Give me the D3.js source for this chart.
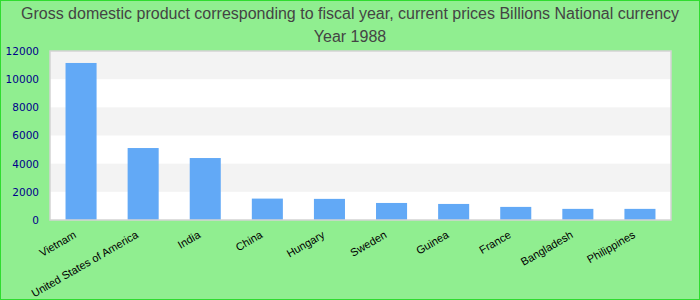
<!DOCTYPE html>
<html>
<head>
<meta charset="utf-8">
<script src="https://cdn.jsdelivr.net/npm/d3@7"></script>
<style>
  body { margin: 0; background: #90ee90; }
</style>
</head>
<body>
<div id="chart"></div>
<script>
// données
const countries = ["Vietnam", "United States of America", "India", "China", "Hungary",
    "Sweden", "Guinea", "France", "Bangladesh", "Philippines"];
const gdpValues = [11150, 5110, 4400, 1520, 1500, 1210, 1140, 930, 790, 790];
const yTicks = [0, 2000, 4000, 6000, 8000, 10000, 12000];
const titleLines = [
    "Gross domestic product corresponding to fiscal year, current prices Billions National currency",
    "Year 1988"
];

const W = 700, H = 300;
const margin = { top: 51, right: 29, bottom: 80, left: 50 };
const width = W - margin.left - margin.right;
const height = H - margin.top - margin.bottom;

const svg = d3.select("#chart")
    .append("svg")
    .attr("width", W)
    .attr("height", H);

// fond + bordure verte
svg.append("rect")
    .attr("x", 0).attr("y", 0)
    .attr("width", W).attr("height", H)
    .attr("fill", "#90ee90")
    .attr("stroke", "#2fdc2f")
    .attr("stroke-width", 2);

// titre
svg.selectAll(".title")
    .data(titleLines)
    .enter()
    .append("text")
    .attr("x", W / 2)
    .attr("y", (d, i) => 19 + i * 23)
    .attr("text-anchor", "middle")
    .attr("font-family", "Liberation Sans, Arial, sans-serif")
    .attr("font-size", 16)
    .attr("fill", "#444")
    .text(d => d);

const g = svg.append("g")
    .attr("transform", `translate(${margin.left},${margin.top})`);

const x = d3.scaleBand()
    .domain(countries)
    .range([0, width])
    .paddingInner(0.5)
    .paddingOuter(0.25);

const y = d3.scaleLinear()
    .domain([0, 12000])
    .range([height, 0]);

// bandes alternées
g.append("rect")
    .attr("width", width).attr("height", height)
    .attr("fill", "#fff");

g.selectAll(".stripe")
    .data(yTicks.slice(0, -1).filter((d, i) => i % 2 === 1))
    .enter()
    .append("rect")
    .attr("x", 0)
    .attr("y", d => y(d + 2000))
    .attr("width", width)
    .attr("height", d => y(d) - y(d + 2000))
    .attr("fill", "#f3f3f3");

// barres
g.selectAll(".bar")
    .data(countries)
    .enter()
    .append("rect")
    .attr("x", d => x(d))
    .attr("y", (d, i) => y(gdpValues[i]))
    .attr("width", x.bandwidth())
    .attr("height", (d, i) => height - y(gdpValues[i]))
    .attr("fill", "#62a9f6");

// cadre
g.append("rect")
    .attr("width", width).attr("height", height)
    .attr("fill", "none")
    .attr("stroke", "#d3d3d3")
    .attr("stroke-width", 1.5);

// axe Y
const yAxis = g.append("g")
    .call(d3.axisLeft(y).tickValues(yTicks).tickFormat(d3.format("d")).tickSize(0).tickPadding(11));
yAxis.select(".domain").remove();
yAxis.selectAll("text")
    .attr("font-family", "DejaVu Sans, Verdana, sans-serif")
    .attr("font-size", 10.5)
    .attr("fill", "#00008b");

// axe X
const xAxis = g.append("g")
    .attr("transform", `translate(0,${height})`)
    .call(d3.axisBottom(x).tickSize(0).tickPadding(0));
xAxis.select(".domain").remove();
xAxis.selectAll("text")
    .attr("font-family", "Liberation Sans, Arial, sans-serif")
    .attr("font-size", 11)
    .attr("fill", "#000")
    .attr("text-anchor", "end")
    .attr("dy", 0)
    .attr("transform", "translate(-4,17) rotate(-30)");
</script>
</body>
</html>
